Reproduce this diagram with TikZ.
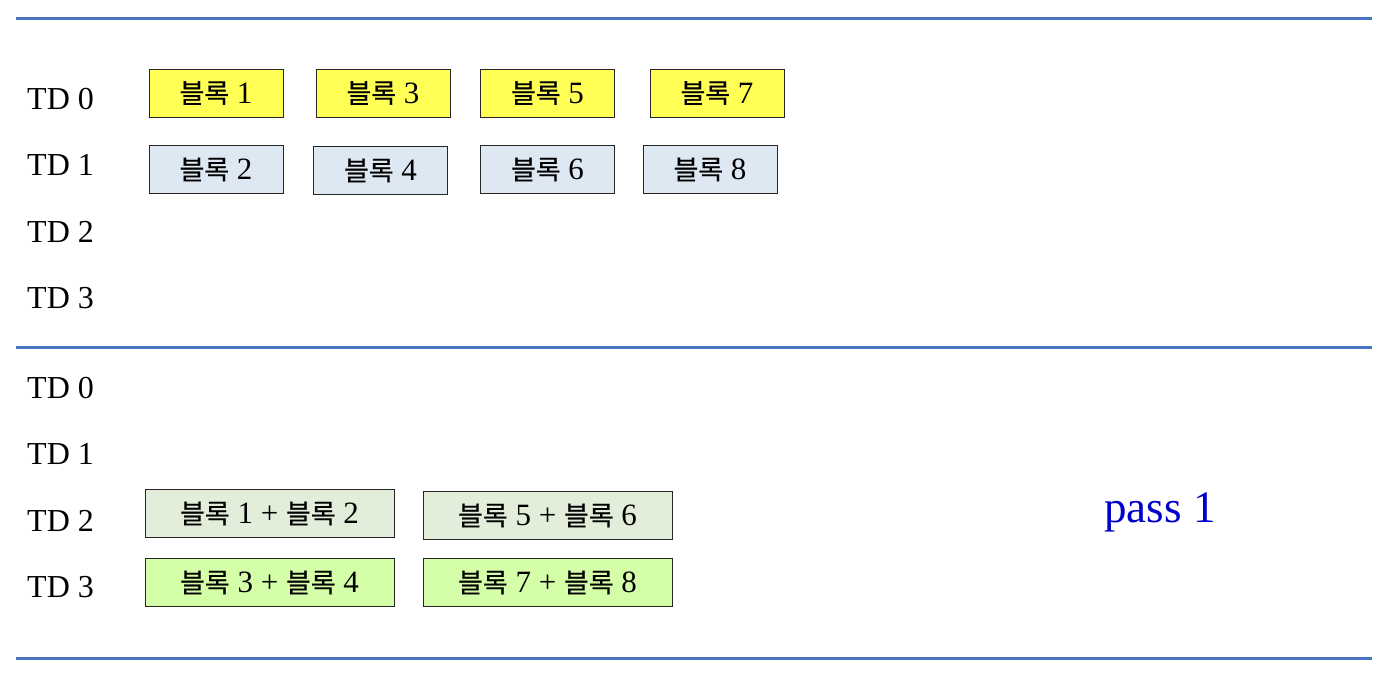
\documentclass[tikz,border=0pt]{standalone}
\usepackage{fontspec}
\setmainfont{Liberation Serif}
\newfontfamily\kr[FakeBold=0.5]{Noto Sans CJK KR}
\definecolor{rule}{RGB}{72,114,196}
\definecolor{yel}{RGB}{255,255,85}
\definecolor{lblue}{RGB}{222,232,242}
\definecolor{lgray}{RGB}{226,238,218}
\definecolor{lime}{RGB}{212,255,168}
\definecolor{passblue}{RGB}{0,0,204}
\newcommand{\blk}[1]{{\kr\fontsize{27}{32}\selectfont 블록} #1}
\tikzset{
  sep/.style={draw=rule, line width=3pt},
  tdlabel/.style={anchor=west, font=\fontsize{32}{38}\selectfont, inner sep=0pt},
  blkbox/.style={draw=black!85, line width=1pt, minimum width=134pt, minimum height=48pt, inner sep=0pt, font=\fontsize{31}{36}\selectfont},
  sumbox/.style={blkbox, minimum width=249pt},
}
\begin{document}
\begin{tikzpicture}[x=1pt,y=-1pt]
\useasboundingbox (0,0) rectangle (1386,678);
\coordinate (l1a) at (16,18); \coordinate (l1b) at (1372,18);
\coordinate (l2a) at (16,347); \coordinate (l2b) at (1372,347);
\coordinate (l3a) at (16,658); \coordinate (l3b) at (1372,658);
\draw[sep] (l1a) -- (l1b);
\draw[sep] (l2a) -- (l2b);
\draw[sep] (l3a) -- (l3b);
% top labels
\node[tdlabel] (t0) at (27,99) {TD 0};
\node[tdlabel] (t1) at (27,165) {TD 1};
\node[tdlabel] (t2) at (27,232) {TD 2};
\node[tdlabel] (t3) at (27,298) {TD 3};
% bottom labels
\node[tdlabel] (u0) at (27,388) {TD 0};
\node[tdlabel] (u1) at (27,454) {TD 1};
\node[tdlabel] (u2) at (27,521) {TD 2};
\node[tdlabel] (u3) at (27,587) {TD 3};
% top boxes
\node[blkbox, fill=yel] (b1) at (216,93) {\blk{1}};
\node[blkbox, fill=yel] (b3) at (383,93) {\blk{3}};
\node[blkbox, fill=yel] (b5) at (547.5,93) {\blk{5}};
\node[blkbox, fill=yel] (b7) at (717,93) {\blk{7}};
\node[blkbox, fill=lblue] (b2) at (216,169.5) {\blk{2}};
\node[blkbox, fill=lblue] (b4) at (380.5,170.5) {\blk{4}};
\node[blkbox, fill=lblue] (b6) at (547.5,169.5) {\blk{6}};
\node[blkbox, fill=lblue] (b8) at (710,169.5) {\blk{8}};
% bottom boxes
\node[sumbox, fill=lgray] (s12) at (269.5,513.5) {\blk{1} + \blk{2}};
\node[sumbox, fill=lgray] (s56) at (547.5,515.5) {\blk{5} + \blk{6}};
\node[sumbox, fill=lime] (s34) at (269.5,582.5) {\blk{3} + \blk{4}};
\node[sumbox, fill=lime] (s78) at (547.5,582.5) {\blk{7} + \blk{8}};
\node[text=passblue, font=\fontsize{45}{52}\selectfont, inner sep=0pt] (pass) at (1160,512) {pass 1};
\end{tikzpicture}
\end{document}
